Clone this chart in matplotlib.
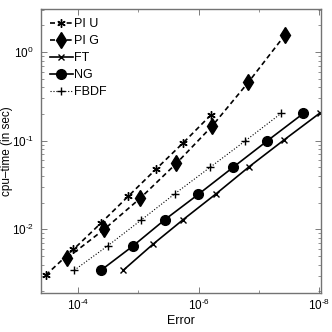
import numpy as np
import matplotlib
matplotlib.use("Agg")
import matplotlib.pyplot as plt
from matplotlib.ticker import LogLocator, NullFormatter

plt.rcParams['font.family'] = ['Liberation Sans Narrow', 'Liberation Sans', 'DejaVu Sans']
plt.rcParams['mathtext.fontset'] = 'custom'
plt.rcParams['mathtext.rm'] = 'Liberation Sans'
plt.rcParams['mathtext.it'] = 'Liberation Sans'

# error / cpu-time pairs
piu_err = [3.39e-4, 1.18e-4, 4.11e-5, 1.45e-5, 5.12e-6, 1.79e-6, 6.29e-7]
piu_time = [3.04e-3, 5.93e-3, 1.18e-2, 2.37e-2, 4.74e-2, 9.47e-2, 0.194]

pig_err = [1.49e-4, 3.67e-5, 9.31e-6, 2.33e-6, 5.97e-7, 1.50e-7, 3.70e-8]
pig_time = [4.77e-3, 9.97e-3, 2.23e-2, 5.54e-2, 0.146, 0.455, 1.56]

ft_err = [1.76e-5, 5.73e-6, 1.79e-6, 5.19e-7, 1.46e-7, 3.84e-8, 9.7e-9]
ft_time = [3.46e-3, 6.76e-3, 1.29e-2, 2.50e-2, 5.07e-2, 0.102, 0.206]

ng_err = [4.11e-5, 1.23e-5, 3.59e-6, 1.01e-6, 2.69e-7, 7.26e-8, 1.84e-8]
ng_time = [3.46e-3, 6.46e-3, 1.29e-2, 2.48e-2, 5.0e-2, 9.97e-2, 0.203]

fbdf_err = [1.14e-4, 3.19e-5, 8.95e-6, 2.45e-6, 6.46e-7, 1.68e-7, 4.31e-8]
fbdf_time = [3.46e-3, 6.52e-3, 1.27e-2, 2.53e-2, 5.0e-2, 9.97e-2, 0.203]

xtick_vals = [1e-4, 1e-6, 1e-8]
xtick_labels = [r'$10^{\text{-}4}$', r'$10^{\text{-}6}$', r'$10^{\text{-}8}$']
ytick_vals = [1e-2, 1e-1, 1e0]
ytick_labels = [r'$10^{\text{-}2}$', r'$10^{\text{-}1}$', r'$10^{0}$']

fig = plt.figure(figsize=(3.32, 3.32), dpi=100)
ax = fig.add_axes([0.1226, 0.1166, 0.8444, 0.8564])

asterisk = (6, 2, 0)
dash = (3, 2)
ax.plot(piu_err, piu_time, 'k--', dashes=dash, marker=asterisk, ms=6, mew=1.0, lw=1.2, label='PI U')
ax.plot(pig_err, pig_time, 'k--', dashes=dash, marker='d', ms=8, lw=1.2, label='PI G')
ax.plot(ft_err, ft_time, 'k-', marker='x', ms=5, mew=1.0, lw=1.2, label='FT')
ax.plot(ng_err, ng_time, 'k-', marker='o', ms=7, lw=1.2, label='NG')
ax.plot(fbdf_err, fbdf_time, color='k', ls=':', marker='+', ms=6, mew=1.0, lw=0.8, label='FBDF')

ax.set_xscale('log')
ax.set_yscale('log')
ax.set_xlim(10**-3.387, 10**-8.028)
ax.set_ylim(1.9e-3, 3.06)

ax.set_xticks(xtick_vals, xtick_labels)
ax.xaxis.set_minor_locator(LogLocator(base=10, subs=[1.0]))
ax.xaxis.set_minor_formatter(NullFormatter())
ax.set_yticks(ytick_vals, ytick_labels)
ax.yaxis.set_minor_locator(LogLocator(base=10, subs=np.arange(2, 10)))
ax.yaxis.set_minor_formatter(NullFormatter())

ax.tick_params(which='both', direction='in', top=True, right=True, labelsize=8.5, color='0.4')
ax.tick_params(which='major', length=4, width=0.6)
ax.tick_params(which='minor', length=2, width=0.5)
ax.tick_params(axis='y', pad=5)
for s in ax.spines.values():
    s.set_color('0.45')
    s.set_linewidth(1.0)

ax.set_xlabel('Error', fontsize=9, labelpad=1)
ax.set_ylabel('cpu\u2013time (in sec)', fontsize=8.5)
ax.yaxis.set_label_coords(-0.1, 0.5)

ax.legend(loc='upper left', frameon=False, fontsize=9, handlelength=1.8,
          handletextpad=0.15, labelspacing=0.4, borderaxespad=0.35)

fig.savefig('out.png', dpi=100)
